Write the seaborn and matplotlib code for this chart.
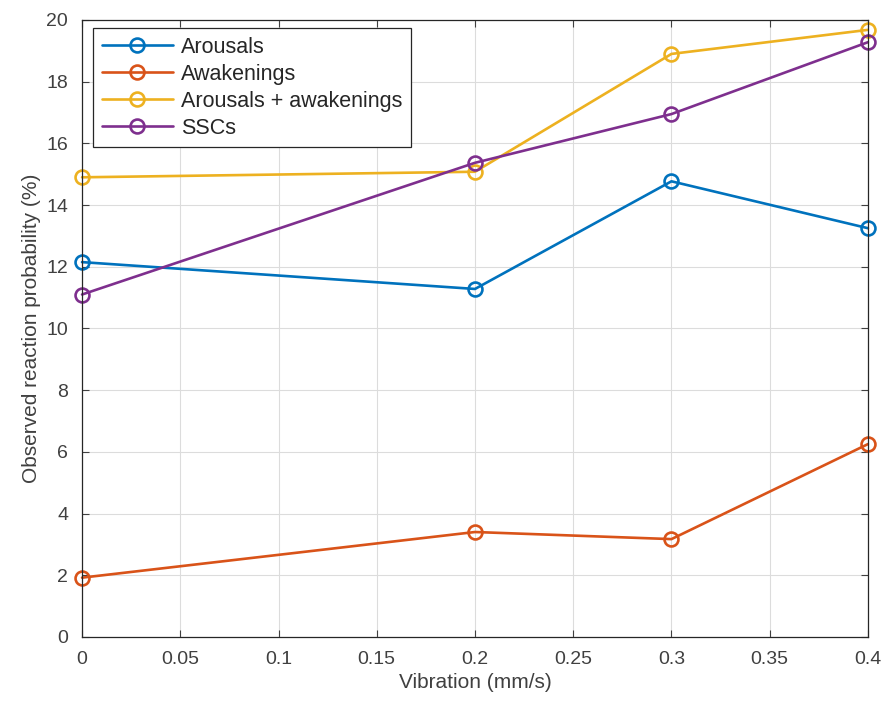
import matplotlib
matplotlib.use("Agg")
import matplotlib.pyplot as plt
import seaborn as sns
import pandas as pd

vibration = [0.0, 0.2, 0.3, 0.4]
arousals = [12.15, 11.28, 14.77, 13.25]
awakenings = [1.92, 3.40, 3.17, 6.25]
combined = [14.90, 15.08, 18.90, 19.68]
sscs = [11.10, 15.37, 16.95, 19.28]
series_names = ["Arousals", "Awakenings", "Arousals + awakenings", "SSCs"]
colors = ["#0072BD", "#D95319", "#EDB120", "#7E2F8E"]
xticks = [0, 0.05, 0.1, 0.15, 0.2, 0.25, 0.3, 0.35, 0.4]
xtick_labels = ["0", "0.05", "0.1", "0.15", "0.2", "0.25", "0.3", "0.35", "0.4"]
yticks = [0, 2, 4, 6, 8, 10, 12, 14, 16, 18, 20]

rows = []
for name, vals in zip(series_names, [arousals, awakenings, combined, sscs]):
    for x, y in zip(vibration, vals):
        rows.append({"Vibration": x, "Value": y, "Series": name})
df = pd.DataFrame(rows)

sns.set_theme(style="white")
plt.rcParams["font.family"] = ["Liberation Sans", "DejaVu Sans"]

fig = plt.figure(figsize=(8.85, 7.14), dpi=100)
ax = fig.add_axes([0.0927, 0.108, 0.888, 0.864])

sns.lineplot(data=df, x="Vibration", y="Value", hue="Series", hue_order=series_names,
             palette=colors, marker="o", markersize=10, markerfacecolor="none",
             markeredgewidth=1.9, linewidth=1.9, ax=ax, legend=True, clip_on=False)
for line, c in zip(ax.lines, colors):
    line.set_markeredgecolor(c)

ax.set_xlim(0, 0.4)
ax.set_ylim(0, 20)
ax.set_xticks(xticks)
ax.set_xticklabels(xtick_labels)
ax.set_yticks(yticks)
ax.grid(True, color="#dcdcdc", linewidth=0.8)
ax.set_axisbelow(True)
ax.tick_params(direction="in", length=5, width=0.8, colors="#404040", labelsize=14,
               top=True, right=True, bottom=True, left=True, pad=10)
for s in ax.spines.values():
    s.set_color("#262626")
    s.set_linewidth(0.9)
ax.set_xlabel("Vibration (mm/s)", fontsize=15, color="#404040", labelpad=4)
ax.set_ylabel("Observed reaction probability (%)", fontsize=15, color="#404040", labelpad=4)

leg = ax.legend(loc="upper left", bbox_to_anchor=(0.014, 0.987), borderaxespad=0,
                fontsize=15.5, frameon=True, fancybox=False, edgecolor="#262626",
                framealpha=1, handlelength=3.3, borderpad=0.4, labelspacing=0.28,
                handletextpad=0.4)
leg.get_frame().set_linewidth(0.9)
for h, c in zip(leg.legend_handles, colors):
    h.set_markerfacecolor("none")
    h.set_markeredgecolor(c)
for t in leg.get_texts():
    t.set_color("#262626")

fig.savefig("out.png", dpi=100, facecolor="white")
